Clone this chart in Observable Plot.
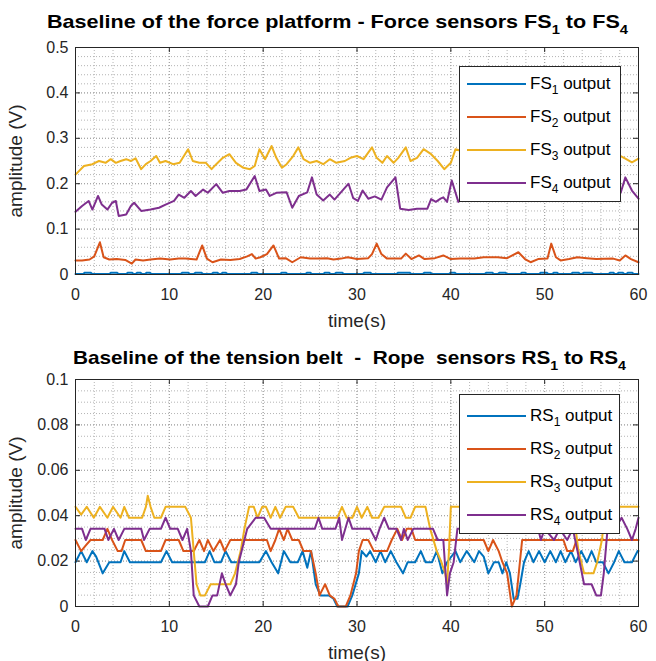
<!DOCTYPE html>
<html><head><meta charset="utf-8">
<script src="https://cdn.jsdelivr.net/npm/d3@7"></script>
<script src="https://cdn.jsdelivr.net/npm/@observablehq/plot@0.6"></script>
<style>
body{margin:0;background:#fff;font-family:"Liberation Sans",Arial,Helvetica,sans-serif;}
#fig{position:relative;width:656px;height:661px;overflow:hidden;background:#fff;}
.panel{position:absolute;left:0;}
.title{position:absolute;white-space:pre;font-weight:bold;font-size:19px;color:#000;line-height:22px;transform-origin:0 0;}
.title sub{font-size:13px;vertical-align:-6px;line-height:0;}
.legend{position:absolute;background:#fff;border:1px solid #262626;box-sizing:border-box;}
.row{position:absolute;left:7px;height:24px;line-height:24px;font-size:17px;color:#000;white-space:pre;}
.row i{display:inline-block;width:59px;height:0;border-top:2px solid;margin-right:4px;vertical-align:middle;position:relative;top:-1px;}
.row sub{font-size:12px;vertical-align:-5px;line-height:0;}
</style>
</head><body>
<div id="fig"></div>
<script>
// ---------- data ----------
const xTicks = [0, 10, 20, 30, 40, 50, 60];
const yTicksFS = [0, 0.1, 0.2, 0.3, 0.4, 0.5];
const yTicksRS = [0, 0.02, 0.04, 0.06, 0.08, 0.1];
const yTickLabelsRS = ["0", "0.02", "0.04", "0.06", "0.08", "0.1"];
const colors = ["#0072BD", "#D95319", "#EDB120", "#7E2F8E"];
const fsNames = ["FS", "FS", "FS", "FS"];
const rsNames = ["RS", "RS", "RS", "RS"];

// force sensors: [time (s), amplitude (V)]
const fs1 = [[0,0.001],[0.8,0.001],[1.0,0.004],[1.6,0.004],[1.8,0.001],[3.6,0.001],[3.8,0.004],[4.4,0.004],[4.6,0.001],[5.4,0.001],[5.6,0.004],[6.0,0.004],[6.2,0.001],[6.4,0.001],[6.6,0.004],[6.9,0.004],[7.1,0.001],[7.4,0.001],[7.6,0.004],[7.9,0.004],[8.1,0.001],[11.2,0.001],[11.4,0.004],[12.0,0.004],[12.2,0.001],[12.6,0.001],[12.8,0.004],[13.4,0.004],[13.6,0.001],[14.5,0.001],[14.7,0.004],[15.1,0.004],[15.3,0.001],[15.5,0.001],[15.7,0.004],[16.0,0.004],[16.2,0.001],[18.6,0.001],[18.8,0.004],[19.3,0.004],[19.5,0.001],[21.8,0.001],[22.0,0.004],[22.4,0.004],[22.6,0.001],[24.5,0.001],[24.7,0.004],[25.0,0.004],[25.2,0.001],[26.4,0.001],[26.6,0.004],[27.0,0.004],[27.2,0.001],[27.6,0.001],[27.8,0.004],[28.4,0.004],[28.6,0.001],[30.6,0.001],[30.8,0.004],[31.4,0.004],[31.6,0.001],[34.2,0.001],[34.4,0.004],[35.6,0.004],[35.8,0.001],[37.0,0.001],[37.2,0.004],[37.8,0.004],[38.0,0.001],[39.8,0.001],[40.0,0.004],[40.4,0.004],[40.6,0.001],[43.6,0.001],[43.8,0.004],[44.4,0.004],[44.6,0.001],[45.0,0.001],[45.2,0.004],[45.8,0.004],[46.0,0.001],[47.4,0.001],[47.6,0.004],[47.9,0.004],[48.1,0.001],[49.4,0.001],[49.6,0.004],[50.2,0.004],[50.4,0.001],[50.8,0.001],[51.0,0.004],[51.3,0.004],[51.5,0.001],[52.8,0.001],[53.0,0.004],[53.6,0.004],[53.8,0.001],[54.0,0.001],[54.2,0.004],[55.0,0.004],[55.2,0.001],[56.8,0.001],[57.0,0.004],[57.3,0.004],[57.5,0.001],[57.7,0.001],[57.9,0.004],[58.3,0.004],[58.5,0.001],[58.7,0.001],[58.9,0.004],[59.3,0.004],[59.5,0.001],[60,0.001]];
const fs2 = [[0,0.031],[0.7,0.031],[1.5,0.033],[2,0.04],[2.6,0.071],[3,0.038],[3.6,0.033],[4.4,0.034],[5.3,0.032],[6,0.024],[6.4,0.033],[7.2,0.031],[8,0.033],[9,0.035],[10.1,0.033],[11,0.035],[11.7,0.035],[12.9,0.033],[13.5,0.064],[14,0.035],[14.6,0.027],[15.5,0.033],[16.5,0.032],[17.5,0.034],[18.3,0.04],[18.8,0.045],[19.2,0.035],[19.7,0.038],[20.4,0.045],[21.1,0.064],[21.7,0.035],[22.4,0.036],[23.1,0.027],[24,0.038],[25,0.035],[26,0.035],[26.8,0.036],[27.5,0.033],[28.3,0.035],[29,0.038],[30,0.034],[31.2,0.036],[31.6,0.045],[32.1,0.068],[32.6,0.045],[33.2,0.035],[34.7,0.035],[35.2,0.046],[35.8,0.034],[36.6,0.042],[37.2,0.034],[38.3,0.036],[39.2,0.042],[40,0.034],[41,0.035],[42.5,0.035],[43.5,0.038],[45,0.038],[46,0.036],[47.2,0.049],[47.9,0.034],[48.5,0.027],[49.3,0.034],[50.3,0.035],[50.7,0.068],[51.2,0.038],[51.7,0.031],[52.6,0.034],[53.5,0.038],[54.5,0.036],[55.5,0.034],[57.3,0.035],[58,0.031],[58.6,0.042],[59.2,0.034],[60,0.027]];
const fs3 = [[0,0.22],[0.9,0.239],[1.8,0.243],[2.5,0.25],[3.2,0.246],[3.75,0.254],[4.3,0.246],[4.8,0.25],[5.4,0.254],[5.9,0.25],[6.4,0.256],[7,0.232],[7.5,0.243],[8,0.25],[8.6,0.261],[9,0.246],[9.6,0.25],[10.4,0.243],[11.1,0.246],[12,0.276],[12.5,0.25],[13.2,0.246],[13.9,0.246],[14.5,0.232],[15,0.243],[15.7,0.257],[16.4,0.265],[17.1,0.246],[17.9,0.235],[18.6,0.232],[19.1,0.239],[19.6,0.276],[20.2,0.254],[20.9,0.283],[21.4,0.257],[22,0.235],[22.5,0.243],[23.2,0.261],[23.75,0.28],[24.3,0.254],[25,0.246],[25.7,0.25],[26.4,0.243],[27.1,0.254],[27.8,0.246],[28.7,0.25],[29.3,0.257],[30,0.261],[30.7,0.254],[31.6,0.28],[32.1,0.257],[32.7,0.246],[33.2,0.261],[33.9,0.246],[34.4,0.257],[35.2,0.28],[35.7,0.25],[36.4,0.257],[37.1,0.276],[37.9,0.265],[38.6,0.25],[39.3,0.232],[40,0.246],[40.5,0.276],[41.5,0.27],[43,0.262],[45,0.258],[47,0.265],[49,0.26],[51,0.262],[53,0.255],[55,0.26],[57,0.265],[58,0.262],[58.6,0.255],[59.3,0.247],[60,0.255]];
const fs4 = [[0,0.138],[0.7,0.151],[1.4,0.162],[1.8,0.143],[2.4,0.173],[2.8,0.154],[3.4,0.143],[3.9,0.158],[4.3,0.162],[4.6,0.129],[5.4,0.132],[5.9,0.151],[6.25,0.158],[7,0.14],[8,0.143],[8.9,0.147],[9.6,0.154],[10.5,0.162],[11,0.176],[11.6,0.169],[12.3,0.184],[12.8,0.173],[13.6,0.187],[14.1,0.18],[15,0.199],[15.7,0.18],[16.4,0.184],[17.5,0.184],[18.2,0.187],[19.1,0.217],[19.6,0.184],[20.3,0.187],[20.7,0.173],[21.4,0.18],[22.5,0.181],[23.1,0.147],[23.8,0.173],[24.7,0.181],[25.2,0.214],[25.7,0.176],[26.4,0.163],[27.1,0.176],[27.6,0.165],[29.1,0.2],[29.6,0.168],[30.1,0.162],[30.6,0.185],[31.2,0.167],[31.9,0.172],[32.6,0.165],[33.2,0.192],[34.1,0.214],[34.6,0.145],[35.5,0.142],[36.4,0.145],[37.5,0.145],[37.9,0.166],[38.4,0.16],[38.9,0.167],[39.2,0.17],[39.6,0.16],[40.1,0.207],[40.8,0.16],[41.3,0.172],[42,0.18],[44,0.185],[46,0.178],[48,0.19],[50,0.185],[52,0.19],[54,0.18],[56,0.19],[57.5,0.18],[58.1,0.18],[58.6,0.214],[59.3,0.185],[60,0.167]];

// rope sensors: [time (s), amplitude (V)]
const rs1 = [[0,0.0195],[0.6,0.0244],[1.2,0.0195],[1.8,0.0244],[2.2,0.022],[2.9,0.0146],[3.6,0.0195],[4.8,0.0195],[5.2,0.0244],[5.8,0.0195],[9.1,0.0195],[9.7,0.0244],[10.3,0.0195],[13.8,0.0195],[14.3,0.0244],[14.8,0.0195],[15.5,0.0195],[16,0.0244],[16.6,0.0195],[19.6,0.0195],[20.3,0.0244],[20.9,0.0195],[21.6,0.0146],[22.2,0.0244],[22.9,0.0195],[23.7,0.0195],[24.2,0.0244],[24.7,0.0171],[25.1,0.0244],[25.6,0.0098],[26.1,0.0049],[27,0.0049],[27.5,0.0034],[27.9,0],[29,0],[29.5,0.0049],[30.2,0.0146],[30.5,0.0244],[31,0.022],[31.4,0.0244],[32,0.0195],[32.5,0.0244],[33,0.0195],[33.6,0.0244],[34.2,0.0195],[34.9,0.0146],[35.4,0.0195],[36.2,0.0195],[36.8,0.0244],[37.3,0.0195],[38,0.0195],[38.5,0.0244],[39.1,0.0146],[39.6,0.0195],[40.5,0.0244],[41,0.0195],[41.7,0.0244],[42.5,0.0195],[43,0.0244],[43.5,0.022],[44,0.0146],[44.6,0.0195],[45.1,0.0195],[45.5,0.0146],[45.9,0.0195],[46.3,0.0146],[46.7,0.0034],[47.1,0.0034],[47.4,0.0098],[47.8,0.0195],[48.3,0.0244],[48.8,0.0195],[49.4,0.0244],[50,0.0195],[50.6,0.0244],[51.2,0.0195],[51.7,0.0244],[52.2,0.0195],[52.8,0.0244],[53.3,0.0195],[53.9,0.0244],[54.5,0.0195],[55,0.0244],[55.5,0.0195],[56.2,0.0195],[56.8,0.0146],[57.4,0.0195],[57.9,0.0244],[58.5,0.0195],[59.3,0.0195],[59.9,0.0244],[60,0.0244]];
const rs2 = [[0,0.0293],[0.6,0.0244],[1.1,0.0269],[1.6,0.0293],[2.9,0.0293],[3.4,0.0342],[3.9,0.0293],[4.5,0.0244],[4.9,0.0244],[5.3,0.0293],[7,0.0293],[7.5,0.0244],[9.1,0.0244],[9.6,0.0293],[11,0.0293],[11.5,0.0244],[12.6,0.0244],[13.2,0.0293],[13.7,0.0244],[14.1,0.0293],[14.7,0.0244],[15.4,0.0293],[15.9,0.0244],[16.5,0.0293],[20.4,0.0293],[20.8,0.0244],[21.3,0.0293],[21.7,0.0342],[22.2,0.0293],[22.6,0.0342],[23.1,0.0293],[23.8,0.0293],[24.3,0.0244],[25.1,0.0244],[25.6,0.0146],[26,0.0049],[26.6,0.0098],[27.1,0.0049],[27.6,0.0034],[28,0],[28.8,0],[29.3,0.0049],[29.9,0.0146],[30.2,0.0244],[30.6,0.0293],[31.2,0.0293],[31.8,0.0244],[33.2,0.0244],[33.7,0.0293],[34.3,0.0342],[34.8,0.0293],[35.3,0.0342],[35.8,0.0342],[36.2,0.0293],[43.5,0.0293],[44,0.0244],[44.5,0.0293],[45.1,0.0244],[45.5,0.0195],[46,0.0146],[46.5,0],[47,0.0049],[47.6,0.0293],[52,0.0293],[52.4,0.0244],[53,0.0244],[53.4,0.0293],[60,0.0293]];
const rs3 = [[0,0.0439],[0.6,0.0405],[1.2,0.0439],[1.95,0.0391],[2.6,0.0439],[3.4,0.0391],[4,0.0439],[4.8,0.0391],[5.2,0.0439],[5.7,0.0391],[7.1,0.0391],[7.5,0.0439],[7.7,0.0488],[8,0.0439],[8.4,0.0391],[9.1,0.0391],[9.6,0.0439],[11.7,0.0439],[12.3,0.0391],[12.6,0.0244],[12.9,0.0098],[13.3,0.0049],[13.8,0.0049],[14.4,0.0098],[15.6,0.0098],[16.5,0.0098],[17,0.0146],[17.6,0.0244],[18,0.0342],[18.5,0.0439],[19,0.0439],[19.4,0.0391],[19.9,0.0439],[20.3,0.0439],[20.8,0.0391],[21.3,0.0439],[21.8,0.0391],[22.4,0.0439],[23.2,0.0439],[23.8,0.0391],[27.9,0.0391],[28.4,0.0439],[28.9,0.0391],[29.5,0.0391],[30,0.0439],[30.5,0.0391],[31.1,0.0439],[31.6,0.0391],[32.3,0.0391],[32.9,0.0439],[34.7,0.0439],[35.2,0.0391],[35.7,0.0391],[36.2,0.0439],[37.3,0.0439],[37.8,0.0342],[38.5,0.0244],[39,0.0195],[39.4,0.0146],[39.6,0.0098],[39.8,0.0244],[40,0.0439],[41.5,0.0439],[44,0.0439],[47,0.0439],[50,0.0439],[53,0.0439],[53.3,0.0342],[53.6,0.0244],[54.2,0.0146],[55.2,0.0146],[55.6,0.0195],[56.1,0.0293],[56.5,0.0439],[58.2,0.0439],[60,0.0439]];
const rs4 = [[0,0.0342],[0.7,0.0342],[1.1,0.0293],[1.6,0.0342],[3.1,0.0342],[3.5,0.0293],[4.1,0.0342],[4.6,0.0293],[5.2,0.0342],[7,0.0342],[7.3,0.0293],[7.9,0.0342],[9.1,0.0342],[9.6,0.0391],[10.1,0.0342],[10.9,0.0342],[11.4,0.0293],[11.9,0.0342],[12.3,0.0244],[12.6,0.0049],[13.2,0],[14.1,0],[14.6,0.0049],[15.1,0.0049],[15.6,0.0146],[16,0.0098],[16.5,0.0049],[17.1,0.0098],[17.4,0.0195],[18,0.0293],[18.3,0.0342],[19.2,0.0391],[20.1,0.0391],[20.8,0.0342],[25.5,0.0342],[25.9,0.0391],[26.3,0.0342],[27.7,0.0342],[28.1,0.0391],[28.4,0.0293],[29.1,0.0391],[29.5,0.0342],[31.4,0.0342],[32,0.0293],[32.4,0.0342],[32.9,0.0391],[33.4,0.0342],[34.2,0.0342],[34.7,0.0293],[35,0.0342],[35.4,0.0293],[36,0.0342],[38.1,0.0342],[38.6,0.0293],[39.2,0.0293],[39.6,0.0049],[39.9,0.0146],[40.3,0.0195],[40.7,0.0342],[42,0.0342],[44,0.0342],[46,0.0342],[48,0.0342],[49.3,0.0342],[49.6,0.0293],[50,0.0342],[51,0.0293],[51.6,0.0342],[52.4,0.0293],[53,0.0342],[53.5,0.0244],[54.2,0.0098],[55,0.0098],[55.5,0.0049],[56,0.0049],[56.3,0.0146],[56.7,0.0342],[57.5,0.0342],[58.2,0.0391],[58.8,0.0342],[59.3,0.0293],[59.7,0.0342],[60,0.0391]];

const fsSeries = [fs1, fs2, fs3, fs4];
const rsSeries = [rs1, rs2, rs3, rs4];

// ---------- drawing ----------
const W = 656, ML = 75, MR = 18;
const ink = "#262626";

function panel({series, yDomain, yTicks, yFormat, yMinor, height, mt, mb}) {
  const innerH = height - mt - mb, innerW = W - ML - MR;
  const xMinor = d3.range(0, 61, 2);
  const grid = {stroke: "#b4b4b4", strokeOpacity: 1, strokeWidth: 1, strokeDasharray: "1,2"};
  const gridMajor = {stroke: "#a0a0a0", strokeOpacity: 1, strokeWidth: 1, strokeDasharray: "1,2"};
  const none = () => "";
  const marks = [
    Plot.gridX(xMinor, grid),
    Plot.gridY(yMinor, grid),
    Plot.gridX(xTicks, gridMajor),
    Plot.gridY(yTicks, gridMajor),
    ...series.map((s, i) => Plot.line(s, {x: d => d[0], y: d => d[1], stroke: colors[i], strokeWidth: 2, strokeLinejoin: "round"})),
    Plot.frame({stroke: ink, strokeWidth: 1}),
    Plot.tickX(xTicks, {x: d => d, insetTop: innerH - 5, stroke: ink}),
    Plot.tickX(xTicks, {x: d => d, insetBottom: innerH - 5, stroke: ink}),
    Plot.tickY(yTicks, {y: d => d, insetRight: innerW - 5, stroke: ink}),
    Plot.tickY(yTicks, {y: d => d, insetLeft: innerW - 5, stroke: ink}),
    // tick labels
    Plot.axisX(xTicks, {tickSize: 0, tickPadding: 14, label: null, fontSize: 16, color: ink}),
    Plot.axisY(yTicks, {tickSize: 0, tickPadding: 7, tickFormat: yFormat, label: null, fontSize: 16, color: ink}),
    // axis titles (larger font, tick text suppressed)
    Plot.axisX([30], {tickSize: 0, tickFormat: none, label: "time(s)", labelAnchor: "center", labelArrow: "none", labelOffset: 52, fontSize: 19, color: ink}),
    Plot.axisY([yDomain[1] / 2], {tickSize: 0, tickFormat: none, label: "amplitude (V)", labelAnchor: "center", labelArrow: "none", labelOffset: 67, fontSize: 19, color: ink})
  ];
  return Plot.plot({
    width: W, height, marginLeft: ML, marginRight: MR, marginTop: mt, marginBottom: mb,
    x: {domain: [0, 60]},
    y: {domain: yDomain},
    style: {fontFamily: "'Liberation Sans', Arial, sans-serif", fontSize: "16px", color: ink, background: "white", overflow: "visible"},
    marks
  });
}

const fig = document.getElementById("fig");
function place(el, top) { const d = document.createElement("div"); d.className = "panel"; d.style.top = top + "px"; d.appendChild(el); fig.appendChild(d); }

place(panel({series: fsSeries, yDomain: [0, 0.5], yTicks: yTicksFS, yFormat: d => String(d), yMinor: d3.range(0.02, 0.5, 0.02), height: 330, mt: 47, mb: 56}), 0);
place(panel({series: rsSeries, yDomain: [0, 0.1], yTicks: yTicksRS, yFormat: (d, i) => yTickLabelsRS[i], yMinor: d3.range(0.005, 0.1, 0.005), height: 331, mt: 49, mb: 55}), 330);

// titles: fitted to the span they cover in the reference
function title(html, left, right, top) {
  const t = document.createElement("div"); t.className = "title";
  t.style.left = left + "px"; t.style.top = top + "px"; t.innerHTML = html; fig.appendChild(t);
  const w = t.getBoundingClientRect().width;
  t.style.transform = `scaleX(${(right - left) / w})`;
}
title("Baseline of the force platform - Force sensors FS<sub>1</sub> to FS<sub>4</sub>", 47, 628, 11);
title("Baseline of the tension belt  -  Rope  sensors RS<sub>1</sub> to RS<sub>4</sub>", 73, 626, 347);

function legend(names, left, top, w, h, rowY) {
  const L = document.createElement("div"); L.className = "legend";
  Object.assign(L.style, {left: left + "px", top: top + "px", width: w + "px", height: h + "px"});
  names.forEach((n, i) => {
    const r = document.createElement("div"); r.className = "row"; r.style.top = (rowY[i] - 12) + "px";
    r.innerHTML = `<i style="border-color:${colors[i]}"></i><span>${n}<sub>${i + 1}</sub> output</span>`;
    L.appendChild(r);
  });
  fig.appendChild(L);
}
legend(fsNames, 459, 66, 162, 136, [17, 50, 83, 116]);
legend(rsNames, 459, 394, 161, 140, [21, 54, 87, 120]);
</script>
</body></html>
